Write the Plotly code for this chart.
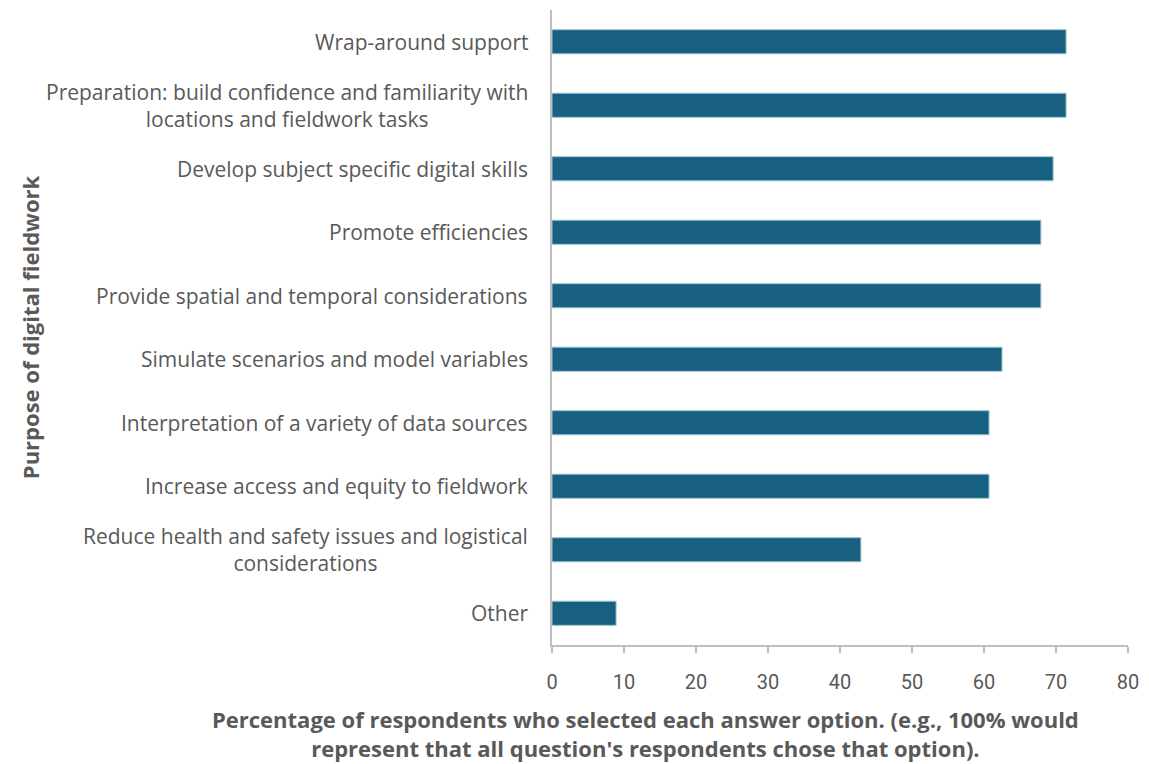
import plotly.graph_objects as go

# Purposes of digital fieldwork, listed top to bottom
purposes = [
    "Wrap-around support",
    "Preparation: build confidence and familiarity with<br>locations and fieldwork tasks",
    "Develop subject specific digital skills",
    "Promote efficiencies",
    "Provide spatial and temporal considerations",
    "Simulate scenarios and model variables",
    "Interpretation of a variety of data sources",
    "Increase access and equity to fieldwork",
    "Reduce health and safety issues and logistical<br>considerations",
    "Other",
]
# Share of respondents (%) selecting each purpose
percent = [71.4, 71.4, 69.6, 67.9, 67.9, 62.5, 60.7, 60.7, 42.9, 8.9]
x_ticks = [0, 10, 20, 30, 40, 50, 60, 70, 80]

x_title = ("<b>Percentage of respondents who selected each answer option. (e.g., 100% would"
           "<br>represent that all question's respondents chose that option).</b>")
y_title = "<b>Purpose of digital fieldwork</b>"

FONT = "Open Sans"
TICK_FONT = "Roboto"
GREY = "#595959"
AXIS = "#bfbfbf"
BAR = "#17607f"

W, H = 1149, 764
L, R, T, B = 552, 12, 10, 119
PW, PH = W - L - R, H - T - B


def px_x(px):
    return (px - L) / PW


def px_y(py):
    return (H - B - py) / PH


ids = [f"c{i}" for i in range(len(purposes))]

fig = go.Figure(
    go.Bar(
        x=percent,
        y=ids,
        orientation="h",
        width=0.38,
        marker=dict(color=BAR, line=dict(color="#9cc3d6", width=1)),
        hoverinfo="x",
    )
)

# Category labels, right aligned against the axis with centred wrapped lines
for cid, label in zip(ids, purposes):
    fig.add_annotation(
        x=0, xref="paper", y=cid, yref="y",
        text=label, showarrow=False,
        xanchor="right", yanchor="middle", align="center",
        xshift=-22,
        font=dict(family=FONT, size=21, color=GREY),
    )

fig.add_annotation(
    x=px_x(647), xref="paper", xanchor="center",
    y=px_y(733), yref="paper", yanchor="middle",
    text=x_title, showarrow=False, align="center",
    font=dict(family=FONT, size=22, color=GREY),
)

fig.add_annotation(
    x=px_x(22), xref="paper", xanchor="center",
    y=px_y(327), yref="paper", yanchor="middle",
    text=y_title, showarrow=False, textangle=-90,
    font=dict(family=FONT, size=22, color=GREY),
)

fig.update_layout(
    width=W,
    height=H,
    margin=dict(l=L, r=R, t=T, b=B),
    paper_bgcolor="white",
    plot_bgcolor="white",
    showlegend=False,
    xaxis=dict(
        range=[0, 80],
        tickvals=x_ticks,
        showgrid=False,
        zeroline=False,
        showline=True,
        linecolor=AXIS,
        linewidth=2,
        ticks="outside",
        ticklen=6,
        tickcolor=AXIS,
        tickwidth=1.5,
        ticklabelstandoff=12,
        tickfont=dict(family=TICK_FONT, size=20, color=GREY),
    ),
    yaxis=dict(
        categoryorder="array",
        categoryarray=ids,
        autorange="reversed",
        showticklabels=False,
        showgrid=False,
        zeroline=False,
        showline=True,
        linecolor=AXIS,
        linewidth=2,
        ticks="",
    ),
)

fig.write_html("out.html")
